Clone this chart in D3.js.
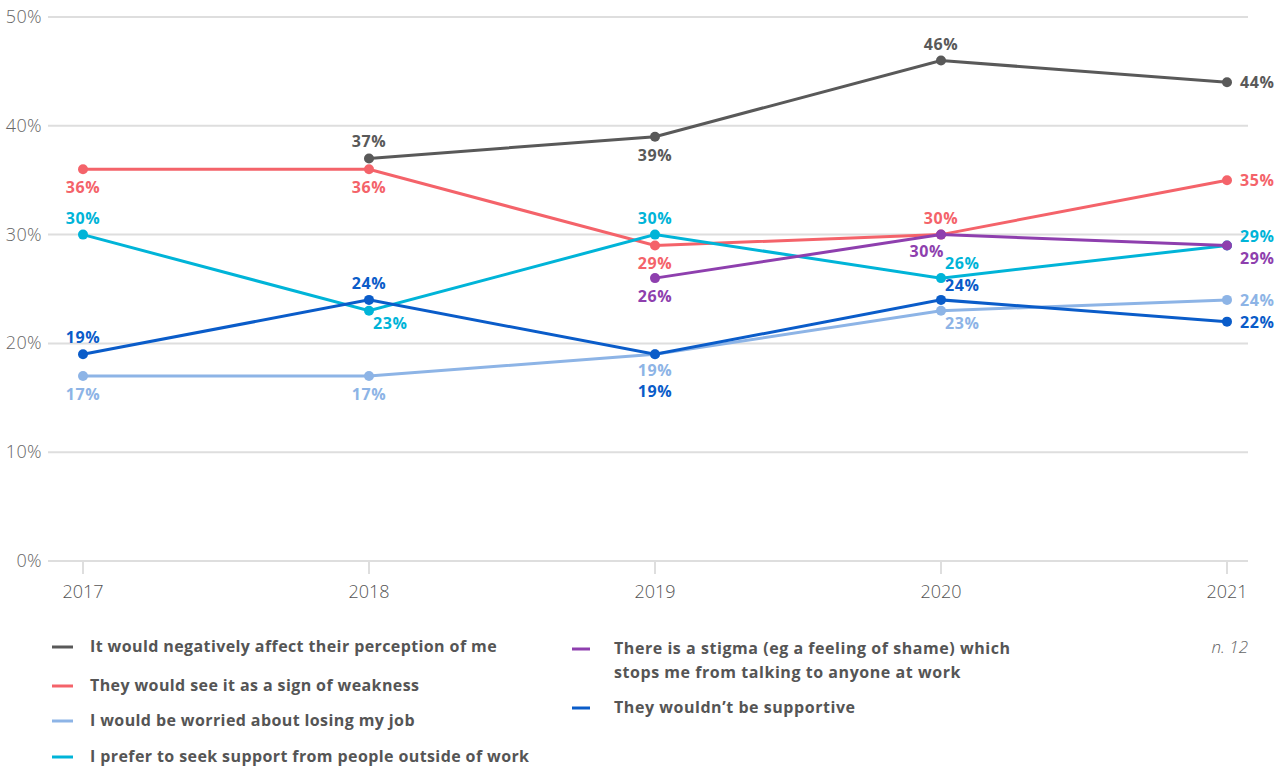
<!DOCTYPE html>
<html><head><meta charset="utf-8">
<script src="https://cdn.jsdelivr.net/npm/d3@7"></script>
<style>
body{margin:0;background:#fff;}
svg{display:block;font-family:"Open Sans",Lato,sans-serif;}
</style></head>
<body><svg id="c" width="1284" height="769"></svg>
<script>
const years = [2017, 2018, 2019, 2020, 2021];
const yTicks = [0, 10, 20, 30, 40, 50];
const seriesNames = [
  "It would negatively affect their perception of me",
  "They would see it as a sign of weakness",
  "I would be worried about losing my job",
  "I prefer to seek support from people outside of work",
  "There is a stigma (eg a feeling of shame) which stops me from talking to anyone at work",
  "They wouldn\u2019t be supportive"
];
const colors = ["#595959", "#f4636a", "#8db4e6", "#00b4d8", "#8e3fae", "#0a5cc9"];
const perception = [null, 37, 39, 46, 44];
const weakness   = [36, 36, 29, 30, 35];
const losingJob  = [17, 17, 19, 23, 24];
const outside    = [30, 23, 30, 26, 29];
const stigma     = [null, null, 26, 30, 29];
const notSupport = [19, 24, 19, 24, 22];
// label placement per point
const perceptionPos = [null, "a", "b", "a", "r"];
const weaknessPos   = ["b", "b", "b", "a", "r"];
const losingJobPos  = ["b", "b", "bs", "br", "r"];
const outsidePos    = ["a", "br", "a", "ar", "ru"];
const stigmaPos     = [null, null, "b", "bl", "rd"];
const notSupportPos = ["a", "a", "bb", "ar", "r"];
const note = "n. 12";

const values = [perception, weakness, losingJob, outside, stigma, notSupport];
const positions = [perceptionPos, weaknessPos, losingJobPos, outsidePos, stigmaPos, notSupportPos];

const svg = d3.select("#c");
const x = d3.scalePoint().domain(years).range([83, 1227]);
const y = d3.scaleLinear().domain([0, 50]).range([561, 17]);

svg.append("g").selectAll("line").data(yTicks).join("line")
  .attr("x1", 48).attr("x2", 1248)
  .attr("y1", d => y(d)).attr("y2", d => y(d))
  .attr("stroke", "#dedede").attr("stroke-width", 2);
svg.append("g").selectAll("text").data(yTicks).join("text")
  .attr("x", 42).attr("y", d => y(d) + 6)
  .attr("text-anchor", "end").attr("font-size", 18).attr("font-weight", 300)
  .attr("letter-spacing", 0.4)
  .attr("fill", "#666").text(d => d + "%");
svg.append("g").selectAll("line").data(years).join("line")
  .attr("x1", d => x(d)).attr("x2", d => x(d))
  .attr("y1", 562).attr("y2", 574)
  .attr("stroke", "#dedede").attr("stroke-width", 2);
svg.append("g").selectAll("text").data(years).join("text")
  .attr("x", d => x(d)).attr("y", 598)
  .attr("text-anchor", "middle").attr("font-size", 18).attr("font-weight", 300)
  .attr("fill", "#555").text(d => d);

const line = d3.line().defined(d => d.v != null).x(d => x(d.year)).y(d => y(d.v));
const order = [0, 1, 2, 3, 4, 5];
order.forEach(i => {
  const pts = years.map((yr, j) => ({year: yr, v: values[i][j], pos: positions[i][j]}));
  svg.append("path").datum(pts).attr("d", line)
    .attr("fill", "none").attr("stroke", colors[i]).attr("stroke-width", 3);
  svg.append("g").selectAll("circle").data(pts.filter(d => d.v != null)).join("circle")
    .attr("cx", d => x(d.year)).attr("cy", d => y(d.v)).attr("r", 5)
    .attr("fill", colors[i]);
});
order.forEach(i => {
  const pts = years.map((yr, j) => ({year: yr, v: values[i][j], pos: positions[i][j]})).filter(d => d.v != null);
  svg.append("g").selectAll("text").data(pts).join("text")
    .attr("font-size", 16).attr("font-weight", 700).attr("fill", colors[i])
    .attr("letter-spacing", 0.6)
    .attr("x", d => {
      const px = x(d.year);
      if (d.pos === "r" || d.pos === "ru" || d.pos === "rd") return px + 13;
      if (d.pos === "ar" || d.pos === "br") return px + 4;
      if (d.pos === "bl") return px + 3;
      return px;
    })
    .attr("y", d => {
      const py = y(d.v);
      switch (d.pos) {
        case "a": return py - 11;
        case "ar": return py - 9;
        case "b": return py + 24;
        case "bs": return py + 22;
        case "br": return py + 18;
        case "bl": return py + 22;
        case "bb": return py + 43;
        case "ru": return py - 3;
        case "rd": return py + 19;
        default: return py + 6;
      }
    })
    .attr("text-anchor", d => d.pos === "r" || d.pos === "ru" || d.pos === "rd" || d.pos === "ar" || d.pos === "br" ? "start" : (d.pos === "bl" ? "end" : "middle"))
    .text(d => d.v + "%");
});

const legendItems = [
  {i: 0, x: 52, y: 647, lines: [seriesNames[0]]},
  {i: 1, x: 52, y: 686, lines: [seriesNames[1]]},
  {i: 2, x: 52, y: 721, lines: [seriesNames[2]]},
  {i: 3, x: 52, y: 757, lines: [seriesNames[3]]},
  {i: 4, x: 572, y: 649, lines: ["There is a stigma (eg a feeling of shame) which", "stops me from talking to anyone at work"]},
  {i: 5, x: 572, y: 708, lines: [seriesNames[5]]}
];
const lg = svg.append("g");
legendItems.forEach(it => {
  const sw = it.x < 300 ? 21 : 18;
  const tx = it.x < 300 ? it.x + 38 : it.x + 42;
  lg.append("line").attr("x1", it.x).attr("x2", it.x + sw)
    .attr("y1", it.y).attr("y2", it.y)
    .attr("stroke", colors[it.i]).attr("stroke-width", 3);
  const t = lg.append("text").attr("y", it.y + 5)
    .attr("font-size", 16).attr("font-weight", 700).attr("fill", "#555")
    .attr("letter-spacing", it.x < 300 ? 0.4 : 0.55);
  it.lines.forEach((l, k) => t.append("tspan").attr("x", tx).attr("dy", k ? 24 : 0).text(l));
});
svg.append("text").attr("x", 1248).attr("y", 653).attr("text-anchor", "end")
  .attr("font-size", 17).attr("font-style", "italic").attr("font-weight", 300)
  .attr("fill", "#666").text(note);
</script></body></html>
